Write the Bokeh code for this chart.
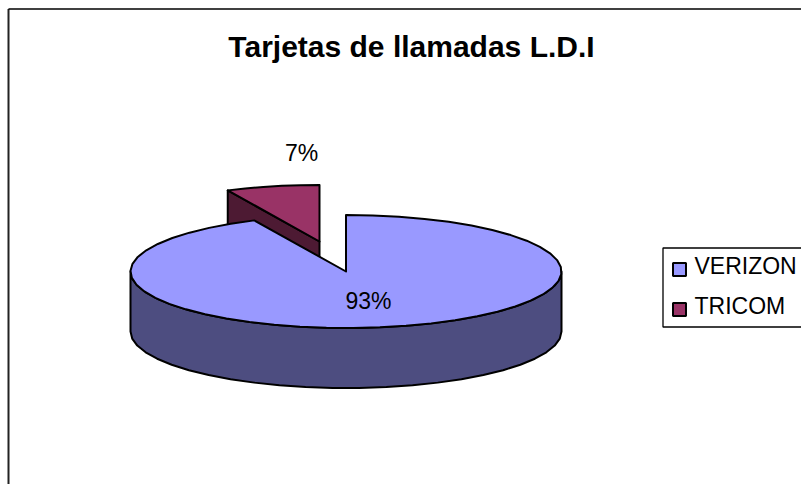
import numpy as np
from bokeh.plotting import figure
from bokeh.embed import file_html
from bokeh.resources import INLINE
from bokeh.core.properties import value

# Data
title_text = "Tarjetas de llamadas L.D.I"
categories = ["VERIZON", "TRICOM"]
shares = [93, 7]

# Style / layout
colors_top = ["#9999FF", "#993366"]
colors_side = ["#4D4D80", "#4D1A33"]
FONT = value("Liberation Sans")
CX, CY, RX, RY, DEPTH = 345.5, 271.0, 215.5, 56.5, 60.0
EXPLODE_X, EXPLODE_Y = -26.5, -30.0
LW = 2.0

p = figure(width=801, height=484, x_range=(0, 801), y_range=(484, 0),
           output_backend="svg", toolbar_location=None, min_border=0)
p.axis.visible = False
p.grid.visible = False
p.outline_line_color = None
p.background_fill_color = "white"
p.border_fill_color = "white"

# chart frame (runs off the right and bottom of the page)
p.line([8, 8], [484, 8.5], line_color="#222222", line_width=2)
p.line([8, 801], [8.5, 8.5], line_color="black", line_width=1.4)

total = sum(shares)
sweep = [s / total * 2 * np.pi for s in shares]


def arc(a0, a1, cx, cy, n=70):
    """Points on the flattened ellipse; angle clockwise from twelve o'clock."""
    t = np.linspace(a0, a1, n)
    return cx + RX * np.sin(t), cy - RY * np.cos(t)


style = dict(line_color="black", line_width=LW, line_join="round")

# exploded slice: it starts where the large slice ends
ax, ay = CX + EXPLODE_X, CY + EXPLODE_Y
rx_arc, ry_arc = arc(sweep[0], 2 * np.pi, ax, ay, 6)
p.patch([rx_arc[0], rx_arc[0], ax, ax], [ry_arc[0], ry_arc[0] + DEPTH, ay + DEPTH, ay],
        fill_color=colors_side[1], **style)
p.patch(np.r_[ax, rx_arc], np.r_[ay, ry_arc], fill_color=colors_top[1], **style)

# large slice: outer wall, then the top
wx, wy = arc(np.pi / 2, 3 * np.pi / 2, CX, CY, 26)
p.patch(np.r_[wx, wx[::-1]], np.r_[wy + DEPTH, wy[::-1]], fill_color=colors_side[0], **style)
bx, by = arc(0, sweep[0], CX, CY, 48)
p.patch(np.r_[CX, bx], np.r_[CY, by], fill_color=colors_top[0], **style)

# texts (SVG baseline sits lower than requested, hence the lifted y values)
p.text([411], [46], text=[title_text], text_font=FONT, text_font_style="bold",
       text_font_size="30px", text_align="center", text_baseline="alphabetic", text_color="black")
p.text([368], [300], text=[f"{shares[0]}%"], text_font=FONT, text_font_size="23px",
       text_align="center", text_baseline="alphabetic", text_color="black")
p.text([301], [152], text=[f"{shares[1]}%"], text_font=FONT, text_font_size="23px",
       text_align="center", text_baseline="alphabetic", text_color="black")

# legend
p.line([801, 662.5, 662.5, 801], [247.5, 247.5, 326.5, 326.5], line_color="black", line_width=1.3)
p.rect([679, 679], [269, 309], width=13, height=13, fill_color=colors_top,
       line_color="black", line_width=2)
p.text([694, 694], [265.5, 305.5], text=categories, text_font=FONT, text_font_size="23px",
       text_align="left", text_baseline="alphabetic", text_color="black")

open("out.html", "w").write(file_html(p, INLINE))
